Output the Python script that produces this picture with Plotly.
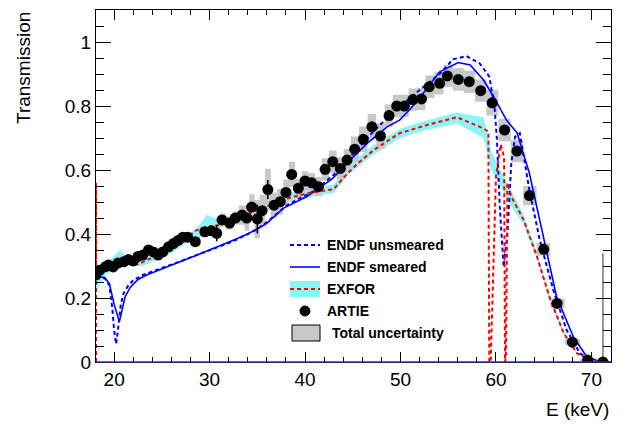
import plotly.graph_objects as go

# ---------------- data ----------------
artie_E = [18.1, 18.5, 19.1, 19.4, 19.9, 20.4, 21.0, 21.5, 22.0, 22.5, 23.0, 23.6, 24.1, 24.6,
           25.1, 25.7, 26.2, 26.7, 27.2, 27.7, 28.5, 29.5, 30.2, 30.75, 31.3, 32.1, 32.7, 33.4,
           33.9, 34.4, 35.0, 35.5, 36.1, 36.75, 37.4, 38.0, 38.6, 39.3, 40.0, 40.7, 41.4, 42.1,
           42.9, 43.7, 44.4, 45.2, 46.1, 47.0, 47.9, 48.8, 49.6, 50.4, 51.3, 52.2, 53.0, 54.1,
           54.9, 56.05, 57.2, 58.4, 59.6, 60.9, 62.2, 63.5, 65.0, 66.4, 68.0, 69.6, 71.2]
artie_T = [0.272, 0.287, 0.298, 0.303, 0.297, 0.309, 0.313, 0.320, 0.316, 0.330, 0.334, 0.350,
           0.344, 0.334, 0.344, 0.360, 0.370, 0.380, 0.390, 0.390, 0.376, 0.407, 0.410, 0.402,
           0.444, 0.434, 0.450, 0.459, 0.450, 0.484, 0.447, 0.473, 0.539, 0.490, 0.501, 0.530,
           0.586, 0.543, 0.566, 0.560, 0.548, 0.602, 0.626, 0.605, 0.631, 0.665, 0.696, 0.735,
           0.706, 0.770, 0.800, 0.800, 0.820, 0.822, 0.860, 0.871, 0.894, 0.883, 0.876, 0.848,
           0.810, 0.725, 0.659, 0.520, 0.352, 0.183, 0.062, 0.006, 0.000]
artie_stat = [0.005, 0.005, 0.005, 0.005, 0.005, 0.005, 0.005, 0.005, 0.005, 0.005, 0.005, 0.005,
              0.005, 0.005, 0.005, 0.005, 0.005, 0.005, 0.005, 0.005, 0.005, 0.005, 0.005, 0.025,
              0.005, 0.005, 0.005, 0.005, 0.005, 0.01, 0.045, 0.01, 0.03, 0.01, 0.01, 0.01,
              0.01, 0.01, 0.01, 0.01, 0.01, 0.01, 0.01, 0.01, 0.01, 0.01, 0.01, 0.01,
              0.01, 0.01, 0.01, 0.01, 0.01, 0.01, 0.01, 0.01, 0.01, 0.01, 0.01, 0.01,
              0.01, 0.01, 0.01, 0.01, 0.01, 0.01, 0.01, 0.01, 0.01]
artie_unc = [0.012, 0.012, 0.012, 0.012, 0.012, 0.012, 0.012, 0.012, 0.012, 0.012, 0.012, 0.012,
             0.012, 0.012, 0.012, 0.012, 0.012, 0.015, 0.015, 0.015, 0.015, 0.015, 0.015, 0.015,
             0.02, 0.02, 0.02, 0.03, 0.04, 0.04, 0.06, 0.05, 0.065, 0.04, 0.04, 0.04,
             0.04, 0.03, 0.03, 0.03, 0.03, 0.035, 0.035, 0.035, 0.035, 0.04, 0.04, 0.04,
             0.04, 0.035, 0.035, 0.035, 0.035, 0.035, 0.035, 0.035, 0.035, 0.035, 0.035, 0.035,
             0.04, 0.035, 0.035, 0.03, 0.02, 0.015, 0.01, 0.005, 0.005]
last_E_err = [71.2]
last_T_err = [0.0]
last_err_up = [0.34]

endf_raw_E = [18.1, 19.0, 19.5, 19.8, 20.0, 20.2, 20.4, 20.7, 21.0, 21.5, 22.0, 23.0, 24.0, 25.0,
              26.0, 27.0, 28.0, 29.0, 30.0, 31.0, 32.0, 33.0, 34.0, 35.0, 36.0, 37.0, 38.0, 39.0,
              40.0, 41.0, 42.0, 43.0, 44.0, 45.0, 46.0, 47.0, 48.0, 49.0, 50.0, 51.0, 52.0, 53.0,
              54.1, 55.5, 56.9, 58.3, 59.3, 59.85, 60.1, 60.4, 60.8, 61.2, 61.6, 62.0, 62.5, 63.5,
              64.6, 66.0, 67.4, 68.8, 70.2, 72.0]
endf_raw_T = [0.262, 0.262, 0.24, 0.17, 0.10, 0.056, 0.10, 0.18, 0.215, 0.24, 0.255, 0.272, 0.283,
              0.293, 0.303, 0.315, 0.327, 0.338, 0.350, 0.362, 0.372, 0.385, 0.400, 0.415, 0.437,
              0.462, 0.487, 0.505, 0.520, 0.535, 0.560, 0.585, 0.617, 0.650, 0.685, 0.715, 0.745,
              0.772, 0.800, 0.825, 0.850, 0.875, 0.900, 0.946, 0.956, 0.933, 0.892, 0.798, 0.694,
              0.485, 0.298, 0.40, 0.62, 0.704, 0.715, 0.537, 0.38, 0.225, 0.10, 0.027, 0.001, 0.0]

endf_sm_E = [18.1, 19.0, 19.5, 20.0, 20.55, 21.15, 21.7, 22.5, 23.4, 25.1, 26.9, 28.7, 30.4, 32.1,
             34.0, 36.0, 37.7, 40.2, 42.9, 44.7, 46.5, 48.6, 49.9, 51.0, 52.0, 53.0, 54.1, 56.05,
             57.3, 58.7, 59.75, 61.1, 62.2, 63.5, 64.95, 66.35, 68.1, 69.5, 70.9, 72.0]
endf_sm_T = [0.265, 0.265, 0.245, 0.18, 0.126, 0.204, 0.234, 0.258, 0.272, 0.293, 0.313, 0.334,
             0.356, 0.376, 0.400, 0.433, 0.480, 0.517, 0.574, 0.631, 0.683, 0.735, 0.756, 0.790,
             0.825, 0.865, 0.907, 0.936, 0.928, 0.881, 0.829, 0.756, 0.717, 0.590, 0.392, 0.204,
             0.079, 0.017, 0.001, 0.0]

exfor_E = [18.1, 18.1, 18.1, 18.2, 19.0, 20.0, 20.6, 21.5, 22.5, 23.5, 24.5, 25.5, 26.5, 27.5,
           28.5, 29.5, 31.0, 33.2, 36.0, 38.1, 40.2, 41.8, 43.0, 44.0, 45.5, 47.2, 49.9, 52.7,
           55.9, 58.7, 59.2, 59.3, 59.45, 60.0, 60.5, 60.85, 60.95, 61.05, 61.2, 61.6, 62.9, 64.3,
           65.7, 67.1, 68.5, 69.9, 71.0]
exfor_T = [0.0, 0.56, 0.27, 0.27, 0.285, 0.30, 0.315, 0.31, 0.305, 0.32, 0.33, 0.345, 0.365, 0.385,
           0.41, 0.42, 0.428, 0.454, 0.485, 0.511, 0.527, 0.535, 0.54, 0.575, 0.62, 0.6625, 0.715,
           0.74, 0.765, 0.73, 0.72, 0.0, 0.0, 0.58, 0.68, 0.64, 0.0, 0.02, 0.56, 0.517, 0.444,
           0.329, 0.194, 0.09, 0.027, 0.006, 0.0]

band_E = [18.1, 19.0, 20.6, 21.5, 23.0, 24.5, 26.0, 27.5, 29.0, 29.7, 31.0, 33.0, 36.0, 38.0,
          40.2, 42.0, 43.0, 44.5, 47.0, 50.0, 52.7, 55.9, 58.7, 59.5, 60.5, 61.5, 62.9, 64.3,
          65.7, 67.1, 68.5, 70.0]
band_lo = [0.22, 0.27, 0.30, 0.30, 0.30, 0.32, 0.34, 0.37, 0.39, 0.40, 0.415, 0.443, 0.472, 0.50,
           0.515, 0.522, 0.527, 0.585, 0.645, 0.70, 0.725, 0.745, 0.70, 0.60, 0.55, 0.49, 0.43,
           0.32, 0.185, 0.085, 0.024, 0.004]
band_hi = [0.28, 0.305, 0.35, 0.325, 0.325, 0.345, 0.365, 0.39, 0.43, 0.46, 0.445, 0.468, 0.50,
           0.525, 0.54, 0.55, 0.555, 0.615, 0.675, 0.73, 0.755, 0.78, 0.765, 0.66, 0.60, 0.54,
           0.46, 0.34, 0.205, 0.095, 0.03, 0.008]

x_ticks = [20, 30, 40, 50, 60, 70]
y_ticks = [0, 0.2, 0.4, 0.6, 0.8, 1]
y_tick_text = ["0", "0.2", "0.4", "0.6", "0.8", "1"]

legend_labels = ["ENDF unsmeared", "ENDF smeared", "EXFOR", "ARTIE", "Total uncertainty"]

# ---------------- styles ----------------
FONT = "Liberation Sans, Arial, sans-serif"
GRAY = "#c8c8c8"
CYAN = "#8cf6f6"
BLUE = "#0000ff"
RED = "#ff0000"
DASH = "4px,3px"

# the page body adds an 8px offset; layout below is in figure pixels
OFF = 8
W, H = 625, 424
ML, MR, MT, MB = 96 - OFF, 625 - 611 + OFF, 10 - OFF, 424 - 362 + OFF
PW, PH = W - ML - MR, H - MT - MB


def px(xs):
    """screen x pixel -> paper x"""
    return (xs - OFF - ML) / PW


def py(ys):
    """screen y pixel -> paper y"""
    return (H - MB - (ys - OFF)) / PH


# uncertainty boxes built from data arrays
n = len(artie_E)
box_x, box_y = [], []
for i in range(n):
    left = artie_E[i] - (artie_E[i] - artie_E[i - 1]) / 2 if i > 0 else artie_E[i] - (artie_E[1] - artie_E[0]) / 2
    right = artie_E[i] + (artie_E[i + 1] - artie_E[i]) / 2 if i < n - 1 else artie_E[i] + (artie_E[i] - artie_E[i - 1]) / 2
    lo = artie_T[i] - artie_unc[i]
    hi = artie_T[i] + artie_unc[i]
    box_x += [left, right, right, left, left, None]
    box_y += [lo, lo, hi, hi, lo, None]

fig = go.Figure()

# EXFOR band
fig.add_trace(go.Scatter(x=band_E, y=band_lo, mode="lines", line=dict(width=0, color=CYAN),
                         showlegend=False, hoverinfo="skip"))
fig.add_trace(go.Scatter(x=band_E, y=band_hi, mode="lines", line=dict(width=0, color=CYAN),
                         fill="tonexty", fillcolor=CYAN, showlegend=False, hoverinfo="skip"))

# gray uncertainty boxes
fig.add_trace(go.Scatter(x=box_x, y=box_y, mode="lines", fill="toself", fillcolor=GRAY,
                         line=dict(width=0, color=GRAY), showlegend=False, hoverinfo="skip"))

# ENDF curves
fig.add_trace(go.Scatter(x=endf_raw_E, y=endf_raw_T, mode="lines", name=legend_labels[0],
                         line=dict(color=BLUE, width=2, dash=DASH), showlegend=False))
fig.add_trace(go.Scatter(x=endf_sm_E, y=endf_sm_T, mode="lines", name=legend_labels[1],
                         line=dict(color=BLUE, width=1.6), showlegend=False))

# EXFOR line
fig.add_trace(go.Scatter(x=exfor_E, y=exfor_T, mode="lines", name=legend_labels[2],
                         showlegend=False, line=dict(color=RED, width=2, dash=DASH)))

# last-point uncertainty line
fig.add_trace(go.Scatter(x=last_E_err, y=last_T_err, mode="markers", showlegend=False,
                         marker=dict(size=1, color="rgba(0,0,0,0)"),
                         error_y=dict(type="data", symmetric=False, array=last_err_up,
                                      arrayminus=[0], color="#777777", thickness=1.5, width=0)))

# ARTIE data
fig.add_trace(go.Scatter(x=artie_E, y=artie_T, mode="markers", name=legend_labels[3],
                         marker=dict(color="black", size=11), showlegend=False,
                         error_y=dict(type="data", array=artie_stat, color="black",
                                      thickness=1.5, width=0)))

# ---------------- manual legend (paper coordinates) ----------------
shapes = [dict(type="line", xref="paper", yref="paper", x0=0, x1=1, y0=0, y1=0,
               line=dict(color="#333399", width=1.5))]
annotations = []
row_y = [245, 267, 289, 311, 333]
sx0, sx1 = 290, 320
text_x = [325, 325, 325, 325, 330]
# 1: dashed blue
shapes.append(dict(type="line", xref="paper", yref="paper", x0=px(sx0), x1=px(sx1),
                   y0=py(row_y[0]), y1=py(row_y[0]), line=dict(color=BLUE, width=2, dash=DASH)))
# 2: solid blue
shapes.append(dict(type="line", xref="paper", yref="paper", x0=px(sx0), x1=px(sx1),
                   y0=py(row_y[1]), y1=py(row_y[1]), line=dict(color=BLUE, width=1.6)))
# 3: cyan box + red dashed line
shapes.append(dict(type="rect", xref="paper", yref="paper", x0=px(sx0), x1=px(sx1),
                   y0=py(row_y[2] + 8), y1=py(row_y[2] - 8), fillcolor=CYAN,
                   line=dict(width=0)))
shapes.append(dict(type="line", xref="paper", yref="paper", x0=px(sx0), x1=px(sx1),
                   y0=py(row_y[2]), y1=py(row_y[2]), line=dict(color=RED, width=2, dash=DASH)))
# 4: black dot
shapes.append(dict(type="circle", xref="paper", yref="paper", x0=px(300), x1=px(310),
                   y0=py(row_y[3] + 5), y1=py(row_y[3] - 5), fillcolor="black",
                   line=dict(color="black", width=1)))
# 5: gray box with outline
shapes.append(dict(type="rect", xref="paper", yref="paper", x0=px(292), x1=px(320),
                   y0=py(row_y[4] + 8), y1=py(row_y[4] - 8), fillcolor=GRAY,
                   line=dict(color="black", width=1)))
for lab, yy, tx in zip(legend_labels, row_y, text_x):
    annotations.append(dict(text=f"<b>{lab}</b>", xref="paper", yref="paper", x=px(tx), y=py(yy),
                            xanchor="left", yanchor="middle", showarrow=False,
                            font=dict(family=FONT, size=14, color="black")))

annotations += [
    dict(text="Transmission", textangle=-90, xref="paper", yref="paper",
         x=px(23), y=1.0, xanchor="center", yanchor="top", showarrow=False,
         font=dict(family=FONT, size=19, color="black")),
    dict(text="E (keV)", xref="paper", yref="paper", x=1.0, y=py(409),
         xanchor="right", yanchor="middle", showarrow=False,
         font=dict(family=FONT, size=19, color="black")),
]

fig.update_layout(
    width=W, height=H,
    margin=dict(l=ML, r=MR, t=MT, b=MB),
    paper_bgcolor="white", plot_bgcolor="white",
    font=dict(family=FONT, size=19, color="black"),
    showlegend=False,
    xaxis=dict(range=[18.1, 72.05], tickvals=x_ticks, ticks="inside", ticklen=10,
               tickwidth=1, tickcolor="black", showline=True, linecolor="black",
               linewidth=1, mirror="ticks", showgrid=False, zeroline=False, automargin=False,
               minor=dict(dtick=2, ticks="inside", ticklen=5, tickcolor="black", showgrid=False),
               tickfont=dict(size=19)),
    yaxis=dict(range=[0, 1.1], tickvals=y_ticks, ticktext=y_tick_text, ticks="inside",
               ticklen=15, tickwidth=1, tickcolor="black", showline=True, linecolor="black",
               linewidth=1, mirror="ticks", showgrid=False, zeroline=False, automargin=False,
               minor=dict(dtick=0.05, ticks="inside", ticklen=8, tickcolor="black", showgrid=False),
               tickfont=dict(size=19)),
    shapes=shapes,
    annotations=annotations,
)

fig.write_html("out.html")
